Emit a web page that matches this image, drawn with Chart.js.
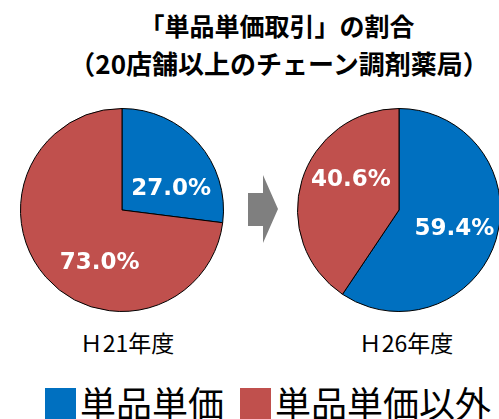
<!DOCTYPE html>
<html lang="ja">
<head>
  <meta charset="UTF-8" />
  <title>単品単価取引の割合</title>
  <script src="https://cdn.jsdelivr.net/npm/chart.js"></script>
  <style>
    html, body {
      margin: 0;
      padding: 0;
      background: #fff;
      overflow: hidden;
    }
    #wrap {
      position: relative;
      width: 499px;
      height: 419px;
      overflow: hidden;
      font-family: 'Noto Sans CJK JP', 'Noto Sans', sans-serif;
      color: #000;
    }
    .title {
      position: absolute;
      left: 27px;
      width: 500px;
      text-align: center;
      font-size: 25px;
      font-weight: bold;
      line-height: 38px;
      white-space: nowrap;
    }
    .pie {
      position: absolute;
      top: 108px;
    }
    .year {
      position: absolute;
      top: 331px;
      width: 160px;
      text-align: center;
      font-size: 23px;
      line-height: 23px;
      white-space: nowrap;
    }
    .arrow {
      position: absolute;
      left: 248px;
      top: 175px;
      width: 30px;
      height: 68px;
      background: #7f7f7f;
      clip-path: polygon(0 26.5%, 50% 26.5%, 50% 0, 100% 50%, 50% 100%, 50% 75%, 0 75%);
    }
    .legend-box {
      position: absolute;
      top: 388px;
      width: 31px;
      height: 31px;
    }
    .legend-text {
      position: absolute;
      top: 384px;
      font-size: 36px;
      line-height: 36px;
      white-space: nowrap;
    }
  </style>
</head>
<body>
  <div id="wrap">
    <div class="title" style="top:6px;">「単品単価取引」の割合</div>
    <div class="title" style="top:44px; font-size:26px; left:29px;">（20店舗以上のチェーン調剤薬局）</div>

    <canvas id="pieH21" class="pie" width="204" height="204" style="left:20px;"></canvas>
    <div class="arrow"></div>
    <canvas id="pieH26" class="pie" width="204" height="204" style="left:297px;"></canvas>

    <div class="year" id="yearH21" style="left:47px;"></div>
    <div class="year" id="yearH26" style="left:326px;"></div>

    <div class="legend-box" id="box0" style="left:45px;"></div>
    <div class="legend-text" id="leg0" style="left:80px;"></div>
    <div class="legend-box" id="box1" style="left:240px;"></div>
    <div class="legend-text" id="leg1" style="left:275px;"></div>
  </div>

  <script>
    const categories = ['単品単価', '単品単価以外'];
    const years = ['Ｈ21年度', 'Ｈ26年度'];
    const h21Values = [27.0, 73.0];
    const h26Values = [59.4, 40.6];
    const colors = ['#0070c0', '#c0504d'];

    // draw the percentage text inside each slice
    const pctLabels = {
      id: 'pctLabels',
      afterDatasetsDraw(chart, args, opts) {
        const ctx = chart.ctx;
        const meta = chart.getDatasetMeta(0);
        const values = chart.data.datasets[0].data;
        ctx.save();
        ctx.font = 'bold 23px "DejaVu Sans", Verdana, sans-serif';
        ctx.fillStyle = '#fff';
        ctx.textAlign = 'center';
        ctx.textBaseline = 'middle';
        meta.data.forEach((arc, i) => {
          const off = opts.offsets[i];
          const x = arc.x + off[0] * arc.outerRadius;
          const y = arc.y + off[1] * arc.outerRadius;
          ctx.fillText(values[i].toFixed(1) + '%', x, y);
        });
        ctx.restore();
      }
    };

    function makePie(id, values, offsets) {
      return new Chart(document.getElementById(id), {
        type: 'pie',
        data: {
          labels: categories,
          datasets: [{
            data: values,
            backgroundColor: colors,
            borderColor: '#000',
            borderWidth: 1
          }]
        },
        options: {
          responsive: false,
          animation: false,
          layout: { padding: 0 },
          plugins: {
            legend: { display: false },
            tooltip: { enabled: false },
            pctLabels: { offsets: offsets }
          }
        },
        plugins: [pctLabels]
      });
    }

    makePie('pieH21', h21Values, [[0.485, -0.21], [-0.22, 0.52]]);
    makePie('pieH26', h26Values, [[0.545, 0.19], [-0.475, -0.30]]);

    document.getElementById('yearH21').textContent = years[0];
    document.getElementById('yearH26').textContent = years[1];
    categories.forEach((c, i) => {
      document.getElementById('box' + i).style.background = colors[i];
      document.getElementById('leg' + i).textContent = c;
    });
  </script>
</body>
</html>
